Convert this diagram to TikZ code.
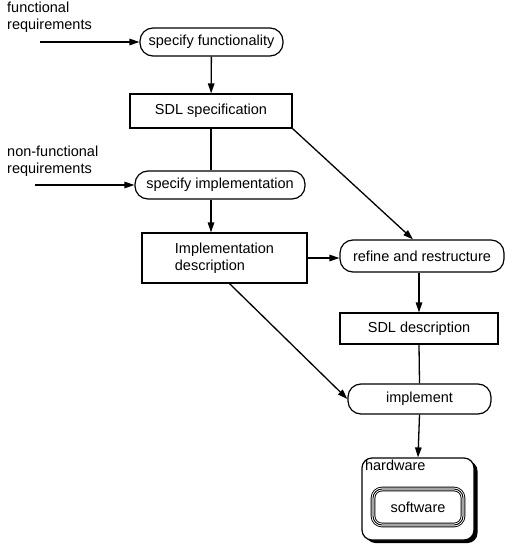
\documentclass[tikz,border=0pt]{standalone}
\usepackage{fontspec}
\setmainfont{Liberation Sans}
\usetikzlibrary{arrows.meta,shadows}

\begin{document}
\begin{tikzpicture}
            [x=1pt, y=-1pt, every node/.style={font=\fontsize{14.5}{16.5}\selectfont},
            action/.style={draw, line width=1.2pt, rounded corners=13pt, minimum height=28pt, inner sep=2pt},
            data/.style={draw, line width=1.2pt, minimum height=32pt, inner sep=2pt},
            platform/.style={draw, line width=1.2pt, fill=white, rounded corners=10pt, minimum width=112pt, minimum height=82pt,
              drop shadow={shadow xshift=3.5pt, shadow yshift=-3pt, opacity=1, fill=black}},
            swbox/.style={draw, line width=0.9pt, rounded corners=9pt, minimum width=90pt, minimum height=36pt,
              preaction={draw, line width=4.6pt}, preaction={draw, white, line width=2.8pt}},
            reqtext/.style={anchor=north west, align=left, inner sep=0pt},
            flow/.style={line width=1.3pt, black, -{Triangle[length=10pt, width=6.5pt]}},
            link/.style={line width=1.3pt, black}]

            \useasboundingbox (0,0) rectangle (511,545);

            \node[reqtext] (freq) at (7,2) {functional\\requirements};
            \node[action, minimum width=143pt] (fun) at (211.5,42) {specify functionality};
            \node[data, minimum width=162pt, minimum height=34pt] (sdlspec) at (211,111) {SDL specification};
            \node[reqtext] (nfreq) at (7,146) {non-functional\\requirements};
            \node[action, minimum width=170pt] (impl) at (220,185) {specify implementation};
            \node[data, minimum width=165pt, minimum height=50pt, align=left] (impldesc) at (224.5,258) {Implementation\\description};
            \node[action, minimum width=164pt, minimum height=32pt] (refine) at (422,256) {refine and restructure};
            \node[data, minimum width=158pt, minimum height=31pt] (sdldesc) at (419,328.5) {SDL description};
            \node[action, minimum width=143pt, minimum height=30pt] (implement) at (419.5,399) {implement};
            \node[platform] (hw) at (418,499) {};
            \node[anchor=north west, inner sep=2pt, xshift=1.5pt] (hwtext) at (hw.north west) {hardware};
            \node[swbox] (sw) at (418,507) {software};

            \coordinate (fin) at (40,42);
            \coordinate (nfin) at (35,185);

            \draw[flow] (fin) -- (fun);
            \draw[flow] (nfin) -- (impl);
            \draw[flow] (fun) -- (sdlspec);
            \draw[link] (sdlspec.south) -- (sdlspec.south |- impl.north);
            \draw[flow] (sdlspec.south east) -- ([xshift=-9pt]refine.north);
            \draw[flow] (impl.south -| sdlspec) -- (impldesc.north -| sdlspec);
            \draw[flow] (impldesc.east) -- (impldesc.east -| refine.west);
            \draw[flow] (refine.south -| sdldesc) -- (sdldesc.north);
            \draw[link] (sdldesc.south) -- (implement.north);
            \draw[flow] ([xshift=5pt]impldesc.south) -- (implement.west);
            \draw[flow] (implement.south) -- (hw.north);

        \end{tikzpicture}
\end{document}
